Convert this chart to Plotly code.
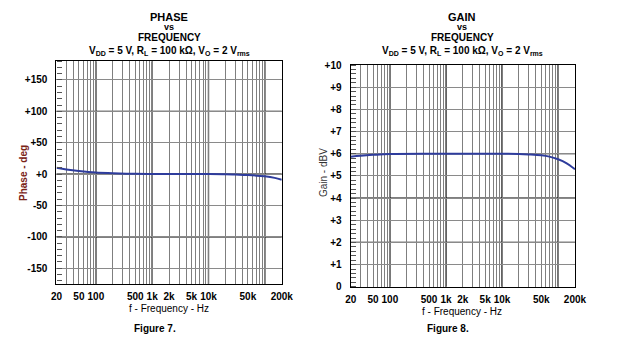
import numpy as np
import plotly.graph_objects as go

# ---- data ----
phase_freq = [20, 30, 50, 100, 200, 500, 1000, 2000, 5000, 10000, 20000, 30000, 50000, 100000, 150000, 200000]
phase_deg = [10, 7.5, 5, 2.5, 1.5, 0.5, 0.3, 0.2, 0.1, 0, -0.3, -0.8, -1.5, -3.5, -6, -9]

gain_freq = [20, 30, 50, 100, 1000, 10000, 20000, 30000, 50000, 70000, 100000, 140000, 200000]
gain_dbv = [5.87, 5.91, 5.95, 5.99, 6.0, 6.0, 5.99, 5.97, 5.93, 5.87, 5.75, 5.58, 5.3]

x_tickvals = [20, 50, 100, 500, 1000, 2000, 5000, 10000, 50000, 200000]
x_ticktext = ["20", "50", "100", "500", "1k", "2k", "5k", "10k", "50k", "200k"]
x_minor = [m * 10 ** e for e in range(1, 6) for m in range(1, 10) if 20 <= m * 10 ** e <= 200000]
x_decades = [100, 1000, 10000, 100000]

phase_tickvals = [-150, -100, -50, 0, 50, 100, 150]
phase_ticktext = ["-150", "-100", "-50", "+0", "+50", "+100", "+150"]
phase_dark = [-100, 0, 100]

gain_tickvals = list(range(0, 11))
gain_ticktext = ["0"] + ["+%d" % v for v in range(1, 11)]
gain_dark = [2, 4, 6]

W, H = 620, 348
FONT = "Liberation Sans, Arial, sans-serif"
LINE = "#2e3c9c"


def px(x):
    return x / W


def py(y):
    return 1 - y / H


fig = go.Figure()
fig.add_trace(go.Scatter(x=phase_freq, y=phase_deg, mode="lines", line=dict(color=LINE, width=2, shape="spline"),
                         xaxis="x", yaxis="y", showlegend=False))
fig.add_trace(go.Scatter(x=gain_freq, y=gain_dbv, mode="lines", line=dict(color=LINE, width=2, shape="spline"),
                         xaxis="x2", yaxis="y2", showlegend=False))

tickfont = dict(family=FONT, size=10, color="black", weight="bold")


def xaxis(dom, anchor):
    return dict(type="log", domain=dom, anchor=anchor, range=[np.log10(20), np.log10(200000)],
                tickmode="array", tickvals=x_tickvals, ticktext=x_ticktext, showgrid=False,
                ticks="", tickfont=tickfont, showline=True, linecolor="black", linewidth=1.2, mirror=True,
                minor=dict(tickmode="array", tickvals=x_minor, showgrid=True, gridcolor="#7f7f7f",
                           gridwidth=1, ticks=""),
                zeroline=False, ticklabelstandoff=3)


fig.update_layout(
    width=W, height=H, margin=dict(l=0, r=0, t=0, b=0),
    paper_bgcolor="white", plot_bgcolor="white",
    xaxis=xaxis([px(52), px(284)], "y"),
    xaxis2=xaxis([px(355), px(586)], "y2"),
    yaxis=dict(domain=[py(288), py(58)], anchor="x", range=[-175, 180], tickmode="array",
               tickvals=phase_tickvals, ticktext=phase_ticktext, tickfont=tickfont,
               showgrid=True, gridcolor="#8a8a8a", gridwidth=1, zeroline=False,
               showline=True, linecolor="black", linewidth=1.2, mirror=True, ticks="",
               minor=dict(dtick=10, tick0=0, ticks="inside", ticklen=5, tickcolor="#555", showgrid=False),
               ticklabelstandoff=6),
    yaxis2=dict(domain=[py(291), py(62)], anchor="x2", range=[0, 10], tickmode="array",
                tickvals=gain_tickvals, ticktext=gain_ticktext, tickfont=tickfont,
                showgrid=True, gridcolor="#8a8a8a", gridwidth=1, zeroline=False,
                showline=True, linecolor="black", linewidth=1.2, mirror=True, ticks="",
                minor=dict(dtick=0.2, tick0=0, ticks="inside", ticklen=5, tickcolor="#555", showgrid=False),
                ticklabelstandoff=6),
)

shapes = []
for xa, ya in (("x", "y"), ("x2", "y2")):
    for d in x_decades:
        shapes.append(dict(type="line", xref=xa, yref=ya + " domain", x0=d, x1=d, y0=0, y1=1,
                           line=dict(color="black", width=1.3), layer="below"))
for v in phase_dark:
    shapes.append(dict(type="line", xref="x domain", yref="y", x0=0, x1=1, y0=v, y1=v,
                       line=dict(color="black", width=1.2), layer="below"))
for v in gain_dark:
    shapes.append(dict(type="line", xref="x2 domain", yref="y2", x0=0, x1=1, y0=v, y1=v,
                       line=dict(color="black", width=1.2), layer="below"))
fig.update_layout(shapes=shapes)

ann = []


def txt(x, y, s, size=10, bold=True, color="black", angle=0):
    ann.append(dict(x=px(x), y=py(y), xref="paper", yref="paper", text=s, showarrow=False,
                    xanchor="center", yanchor="middle", textangle=angle,
                    font=dict(family=FONT, size=size, color=color, weight="bold" if bold else "normal")))


cond = "V<sub>DD</sub> = 5 V, R<sub>L</sub> = 100 kΩ, V<sub>O</sub> = 2 V<sub>rms</sub>"
for cx, name, fy in ((168, "PHASE", 313), (470, "GAIN", 316)):
    txt(cx, 12, name, size=11)
    txt(cx, 23, "vs", size=9)
    txt(cx, 34, "FREQUENCY", size=10)
    txt(cx, 47, cond, size=10)
    txt(cx, fy, "f - Frequency - Hz", size=10, bold=False)

txt(153, 334, "Figure 7.", size=10)
txt(455, 334, "Figure 8.", size=10)
txt(18, 173, "Phase - deg", size=10, color="#7a2418", angle=-90)
txt(327, 173, "Gain - dBV", size=10, bold=False, color="#333333", angle=-90)

fig.update_layout(annotations=ann)
fig.write_html("out.html")
